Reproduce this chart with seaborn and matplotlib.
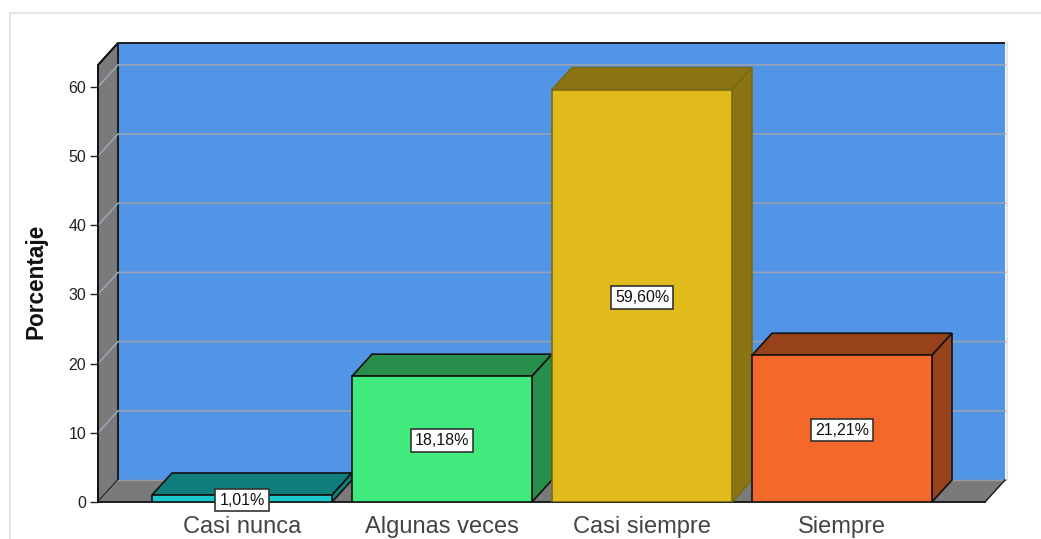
import matplotlib
matplotlib.use("Agg")
import matplotlib.pyplot as plt
import seaborn as sns
import pandas as pd
from matplotlib.patches import Polygon
from matplotlib.lines import Line2D

categories = ["Casi nunca", "Algunas veces", "Casi siempre", "Siempre"]
values = [1.01, 18.18, 59.60, 21.21]
labels = ["1,01%", "18,18%", "59,60%", "21,21%"]
yticks = [0, 10, 20, 30, 40, 50, 60]
front_colors = ["#1BC8CC", "#40EA7C", "#E0BB1B", "#F4682A"]
dark_colors = ["#107E7C", "#278E4C", "#8A7411", "#97421A"]
edge_colors = ["#111111", "#111111", "#7A6A14", "#111111"]

W, H = 1041, 539
plt.rcParams["font.family"] = ["Liberation Sans", "DejaVu Sans"]
fig = plt.figure(figsize=(W / 100, H / 100), dpi=100, facecolor="white")
ax = fig.add_axes([98 / W, (H - 502) / H, 887 / W, 437 / H])
ax.patch.set_visible(False)

df = pd.DataFrame({"cat": categories, "val": values})
sns.barplot(data=df, x="cat", y="val", hue="cat", order=categories, hue_order=categories,
            palette=front_colors, width=0.9, saturation=1, dodge=False, legend=False, ax=ax)
bars = sorted([p for c in ax.containers for p in c if p.get_height() > 0], key=lambda b: b.get_x())

x0, x1 = -0.72, 3.715
ymax = 63.15
ax.set_xlim(x0, x1)
ax.set_ylim(0, ymax)
dx, dy = 0.1, 3.18
WALL, SIDE, GRID = "#5294E6", "#7A7A7A", "#98A3B3"

ax.add_patch(Polygon([(x0 + dx, dy), (x1 + dx, dy), (x1 + dx, ymax + dy), (x0 + dx, ymax + dy)],
                     closed=True, fc=WALL, ec="none", clip_on=False, zorder=1))
ax.add_patch(Polygon([(x0, 0), (x0 + dx, dy), (x0 + dx, ymax + dy), (x0, ymax)],
                     closed=True, fc=SIDE, ec="#111111", lw=1.3, clip_on=False, zorder=1.2))
ax.add_patch(Polygon([(x0, 0), (x0 + dx, dy), (x1 + dx, dy), (x1, 0)],
                     closed=True, fc=SIDE, ec="none", clip_on=False, zorder=1.2))
ax.plot([x0, x0 + dx, x1 + dx], [ymax, ymax + dy, ymax + dy], color="#111111", lw=1.3,
        clip_on=False, zorder=1.4, solid_capstyle="butt")
ax.plot([x0 + dx, x1 + dx], [dy, dy], color="#9A9A9A", lw=1, clip_on=False, zorder=1.4)
ax.plot([x1 + dx, x1], [dy, 0], color="#222222", lw=1.1, clip_on=False, zorder=1.4)
ax.plot([x1 + dx + 0.008] * 2, [dy, ymax + dy], color="#E4E4E4", lw=1.5, clip_on=False, zorder=1.1)

for t in yticks[1:]:
    ax.plot([x0, x0 + dx, x1 + dx], [t, t + dy, t + dy], color=GRID, lw=1.2,
            clip_on=False, zorder=1.3)

for i, p in enumerate(bars):
    z = 3 + i
    l, r, h = p.get_x(), p.get_x() + p.get_width(), p.get_height()
    p.set_edgecolor(edge_colors[i])
    p.set_linewidth(1.2)
    p.set_zorder(z + 0.2)
    ax.add_patch(Polygon([(l, h), (l + dx, h + dy), (r + dx, h + dy), (r, h)], closed=True,
                         fc=dark_colors[i], ec=edge_colors[i], lw=1.2, clip_on=False, zorder=z))
    ax.add_patch(Polygon([(r, 0), (r + dx, dy), (r + dx, h + dy), (r, h)], closed=True,
                         fc=dark_colors[i], ec=edge_colors[i], lw=1.2, clip_on=False, zorder=z))
    ax.annotate(labels[i], (i, h / 2), xytext=(0, -1.5), textcoords="offset pixels",
                ha="center", va="center", fontsize=11.5, color="#111111", zorder=20,
                annotation_clip=False,
                bbox=dict(boxstyle="square,pad=0.24", fc="white", ec="#333333", lw=1.2))

ax.set_yticks(yticks)
ax.set_yticklabels([str(t) for t in yticks])
ax.tick_params(axis="y", length=6, width=1, color="#222222", labelsize=11.5, pad=2.5, labelcolor="#222222")
ax.tick_params(axis="x", length=0, labelsize=17, pad=10, labelcolor="#444444")
ax.set_xlabel("")
ax.set_ylabel("")
fig.text(36 / W, 1 - 281 / H, "Porcentaje", rotation=90, ha="center", va="center",
         fontsize=16.3, fontweight="bold", color="#111111")
for s in ["top", "right"]:
    ax.spines[s].set_visible(False)
for s in ["left", "bottom"]:
    ax.spines[s].set_color("#111111")
    ax.spines[s].set_linewidth(1.3)
    ax.spines[s].set_zorder(2)

fig.add_artist(Line2D([9.5 / W, 9.5 / W], [0, 1 - 12.5 / H], color="#E6E6E6", lw=1.5))
fig.add_artist(Line2D([9.5 / W, 1], [1 - 12.5 / H, 1 - 12.5 / H], color="#E6E6E6", lw=1.5))

fig.savefig("out.png", dpi=100, facecolor="white")
